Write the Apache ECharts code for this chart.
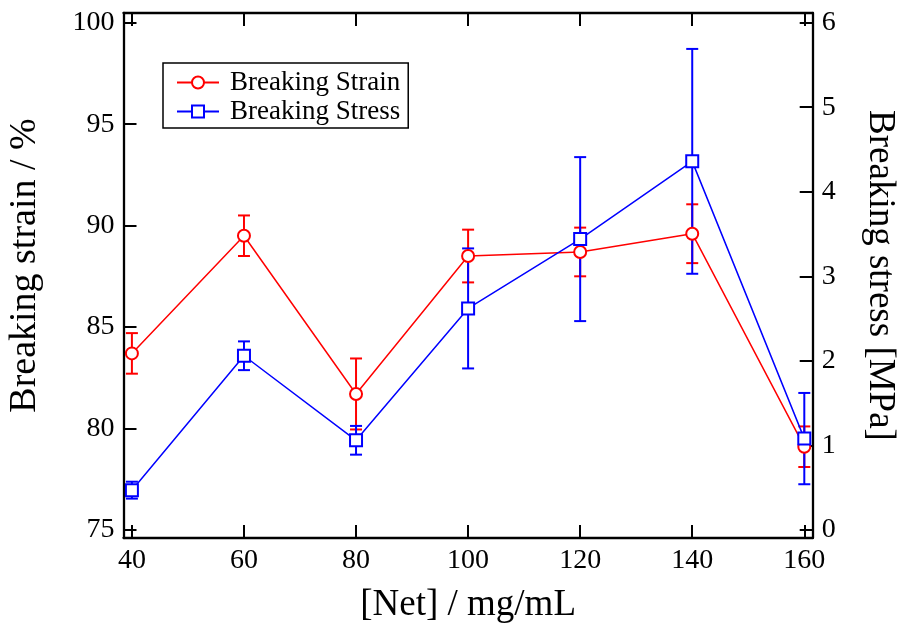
<!DOCTYPE html>
<html>
<head>
<meta charset="utf-8">
<script src="https://cdn.jsdelivr.net/npm/echarts@6/dist/echarts.min.js"></script>
<style>html,body{margin:0;padding:0;background:#fff}#c{width:897px;height:626px}</style>
</head>
<body>
<div id="c"></div>
<script>
// ---- data ----
const netConc = [40, 60, 80, 100, 120, 140, 160];
const strainVals = [83.7, 89.5, 81.7, 88.5, 88.7, 89.6, 79.1];
const strainErr = [1.0, 1.0, 1.75, 1.3, 1.2, 1.45, 1.0];
const stressVals = [0.47, 2.06, 1.06, 2.62, 3.44, 4.36, 1.08];
const stressErr = [0.1, 0.17, 0.17, 0.71, 0.97, 1.33, 0.54];
const xTicks = [40, 60, 80, 100, 120, 140, 160];
const leftTicks = [75, 80, 85, 90, 95, 100];
const rightTicks = [0, 1, 2, 3, 4, 5, 6];

const FONT = 'Liberation Serif';
const chart = echarts.init(document.getElementById('c'));

function errRender(color) {
  return function (params, api) {
    const x = api.value(0), y = api.value(1), e = api.value(2);
    const hi = api.coord([x, y + e]), lo = api.coord([x, y - e]);
    const w = 6;
    const style = { stroke: color, lineWidth: 2, fill: null };
    return {
      type: 'group',
      children: [
        { type: 'line', shape: { x1: hi[0], y1: hi[1], x2: lo[0], y2: lo[1] }, style: style },
        { type: 'line', shape: { x1: hi[0] - w, y1: hi[1], x2: hi[0] + w, y2: hi[1] }, style: style },
        { type: 'line', shape: { x1: lo[0] - w, y1: lo[1], x2: lo[0] + w, y2: lo[1] }, style: style }
      ]
    };
  };
}

const axisLine = { show: true, onZero: false, lineStyle: { color: '#000', width: 2.3 } };
const tickStyle = { color: '#000', width: 2 };

const option = {
  animation: false,
  backgroundColor: '#fff',
  grid: { left: 123.5, right: 84.3, top: 13, bottom: 88, outerBoundsMode: 'none', containLabel: false },
  legend: {
    orient: 'vertical',
    left: 163, top: 63,
    width: 247,
    padding: [6, 8, 3, 13],
    itemGap: 2,
    itemWidth: 42,
    itemHeight: 15,
    borderColor: '#000',
    borderWidth: 1.5,
    backgroundColor: '#fff',
    textStyle: { fontFamily: FONT, fontSize: 27, color: '#000', padding: [0, 0, 0, 6] },
    data: ['Breaking Strain', 'Breaking Stress']
  },
  xAxis: [{
    type: 'value', position: 'bottom', min: 38.5, max: 161.5,
    name: '[Net] / mg/mL', nameLocation: 'middle', nameGap: 49,
    nameTextStyle: { fontFamily: FONT, fontSize: 37, color: '#000' },
    axisLine: axisLine,
    axisTick: { show: true, inside: true, length: 13, lineStyle: tickStyle, customValues: xTicks },
    axisLabel: { show: true, fontFamily: FONT, fontSize: 28, color: '#000', margin: 9, customValues: xTicks },
    splitLine: { show: false }
  }, {
    type: 'value', position: 'top', min: 38.5, max: 161.5,
    axisLine: axisLine,
    axisTick: { show: true, inside: true, length: 13, lineStyle: tickStyle, customValues: xTicks },
    axisLabel: { show: false },
    splitLine: { show: false }
  }],
  yAxis: [{
    type: 'value', position: 'left', min: 74.6, max: 100.48,
    name: 'Breaking strain / %', nameLocation: 'middle', nameGap: 79, nameRotate: 90,
    nameTextStyle: { fontFamily: FONT, fontSize: 38, color: '#000', padding: [0, 0, 0, 20] },
    axisLine: axisLine,
    axisTick: { show: true, inside: true, length: 13, lineStyle: tickStyle, customValues: leftTicks },
    axisLabel: { show: true, fontFamily: FONT, fontSize: 28, color: '#000', margin: 9, customValues: leftTicks },
    splitLine: { show: false }
  }, {
    type: 'value', position: 'right', min: -0.096, max: 6.115,
    name: 'Breaking stress [MPa]', nameLocation: 'middle', nameGap: 49, nameRotate: -90,
    nameTextStyle: { fontFamily: FONT, fontSize: 37, color: '#000' },
    axisLine: axisLine,
    axisTick: { show: true, inside: true, length: 13, lineStyle: tickStyle, customValues: rightTicks },
    axisLabel: { show: true, fontFamily: FONT, fontSize: 28, color: '#000', margin: 9, customValues: rightTicks },
    splitLine: { show: false }
  }],
  series: [
    {
      name: 'Breaking Strain', type: 'line', xAxisIndex: 0, yAxisIndex: 0, z: 3,
      data: netConc.map((x, i) => [x, strainVals[i]]),
      symbol: 'emptyCircle', symbolSize: 12,
      lineStyle: { color: '#ff0000', width: 1.5 },
      itemStyle: { color: '#ff0000', borderColor: '#ff0000', borderWidth: 1.5 }
    },
    {
      name: 'Breaking Stress', type: 'line', xAxisIndex: 0, yAxisIndex: 1, z: 4,
      data: netConc.map((x, i) => [x, stressVals[i]]),
      symbol: 'emptyRect', symbolSize: 12,
      lineStyle: { color: '#0000ff', width: 1.5 },
      itemStyle: { color: '#0000ff', borderColor: '#0000ff', borderWidth: 1.5 }
    },
    {
      name: 'strainErr', type: 'custom', xAxisIndex: 0, yAxisIndex: 0, z: 1,
      renderItem: errRender('#ff0000'),
      encode: { x: 0, y: 1 },
      data: netConc.map((x, i) => [x, strainVals[i], strainErr[i]])
    },
    {
      name: 'stressErr', type: 'custom', xAxisIndex: 0, yAxisIndex: 1, z: 1,
      renderItem: errRender('#0000ff'),
      encode: { x: 0, y: 1 },
      data: netConc.map((x, i) => [x, stressVals[i], stressErr[i]])
    }
  ]
};
chart.setOption(option);
</script>
</body>
</html>
